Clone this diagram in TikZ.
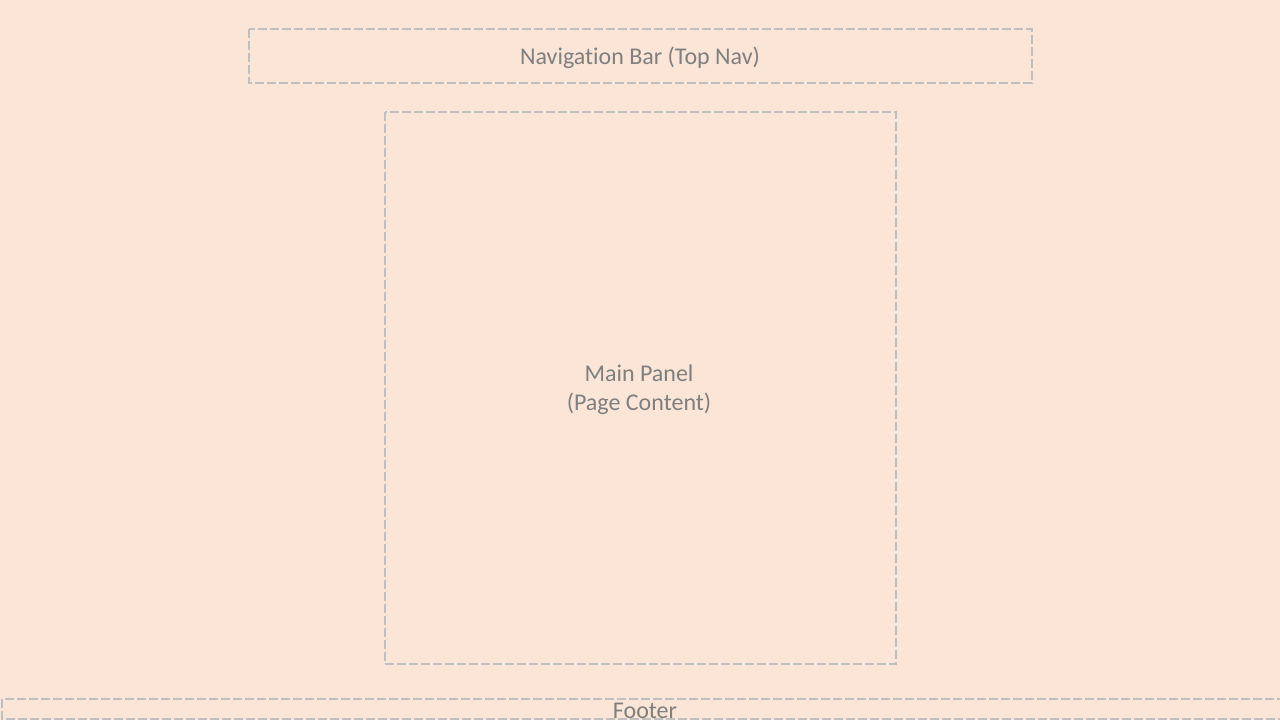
\documentclass[tikz,border=0pt]{standalone}
\usepackage{fontspec}
\setmainfont{Carlito}[RawFeature=-liga]
\definecolor{bgc}{HTML}{FBE5D6}
\definecolor{boxc}{HTML}{BFBFBF}
\definecolor{txtc}{HTML}{7F7F7F}
\begin{document}
\begin{tikzpicture}[x=0.5pt,y=-0.5pt,
  region/.style={draw=boxc, line width=1.4pt, dash pattern=on 4.5pt off 1.5pt},
  lbl/.style={text=txtc, font=\fontsize{12}{14.5}\selectfont, align=center, inner sep=0pt}]
\fill[bgc] (0,0) rectangle (1280,720);
\useasboundingbox (0,0) rectangle (1280,720);
\draw[region] (249,29) rectangle (1032,83);
\node[lbl] (nav) at (640,58) {Navigation Bar (Top Nav)};
\draw[region] (385,112) rectangle (896,664);
\node[lbl] (main) at (639,390) {Main Panel\\(Page Content)};
\begin{scope}
\clip (0,0) rectangle (1280,720);
\draw[region] (2,699) rectangle (1290,719);
\end{scope}
\node[lbl] (footer) at (645,710.5) {Footer};
\end{tikzpicture}
\end{document}
